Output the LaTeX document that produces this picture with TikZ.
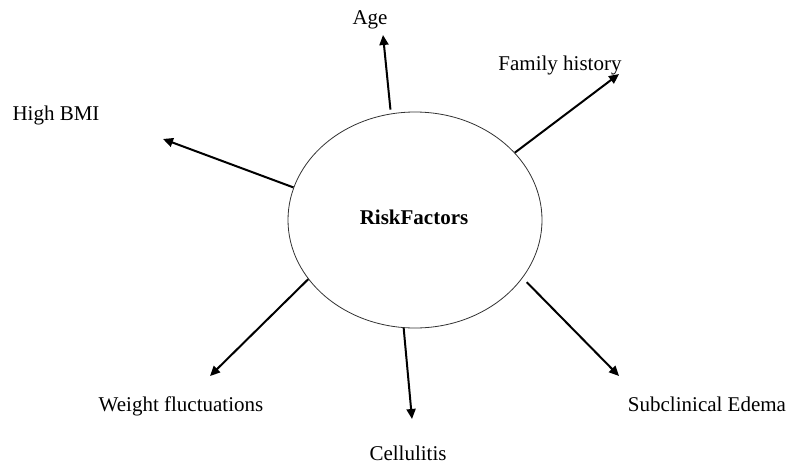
\documentclass[tikz,border=0pt]{standalone}
\usepackage{fontspec}
\setmainfont{Liberation Serif}
\usetikzlibrary{arrows.meta,shapes.geometric}
\begin{document}
\begin{tikzpicture}[x=1pt,y=-1pt,
  lbl/.style={anchor=base,inner sep=0pt,font=\fontsize{21}{25}\selectfont},
  riskarrow/.style={line width=2pt,-{Triangle[length=10pt,width=9pt]}},
  hub/.style={ellipse,draw=black!80,line width=0.8pt,minimum width=254pt,minimum height=216pt,inner sep=0pt}]
\useasboundingbox (0,0) rectangle (787,463);
\node[hub] (rf) at (415,220) {};
\node[lbl,font=\fontsize{21}{25}\selectfont\bfseries] (rft) at (414,224) {RiskFactors};
% tips
\coordinate (tAge) at (383,35);
\coordinate (tFam) at (619,74);
\coordinate (tBMI) at (163,139);
\coordinate (tWei) at (210,376);
\coordinate (tCel) at (412,419);
\coordinate (tSub) at (619,376);
% labels
\node[lbl] (lAge) at (370,24) {Age};
\node[lbl] (lFam) at (560,70) {Family history};
\node[lbl] (lBMI) at (56,120) {High BMI};
\node[lbl] (lWei) at (181,411) {Weight fluctuations};
\node[lbl] (lCel) at (408,460) {Cellulitis};
\node[lbl] (lSub) at (707,411) {Subclinical Edema};
% arrows
\draw[riskarrow] ([shift={(0,-4)}]rf.103.8) -- (tAge);
\draw[riskarrow] (rf.34.8) -- (tFam);
\draw[riskarrow] (rf.165.3) -- (tBMI);
\draw[riskarrow] (rf.209.6) -- (tWei);
\draw[riskarrow] (rf.264.8) -- (tCel);
\draw[riskarrow] ([shift={(5,3)}]rf.-29) -- (tSub);
\end{tikzpicture}
\end{document}
